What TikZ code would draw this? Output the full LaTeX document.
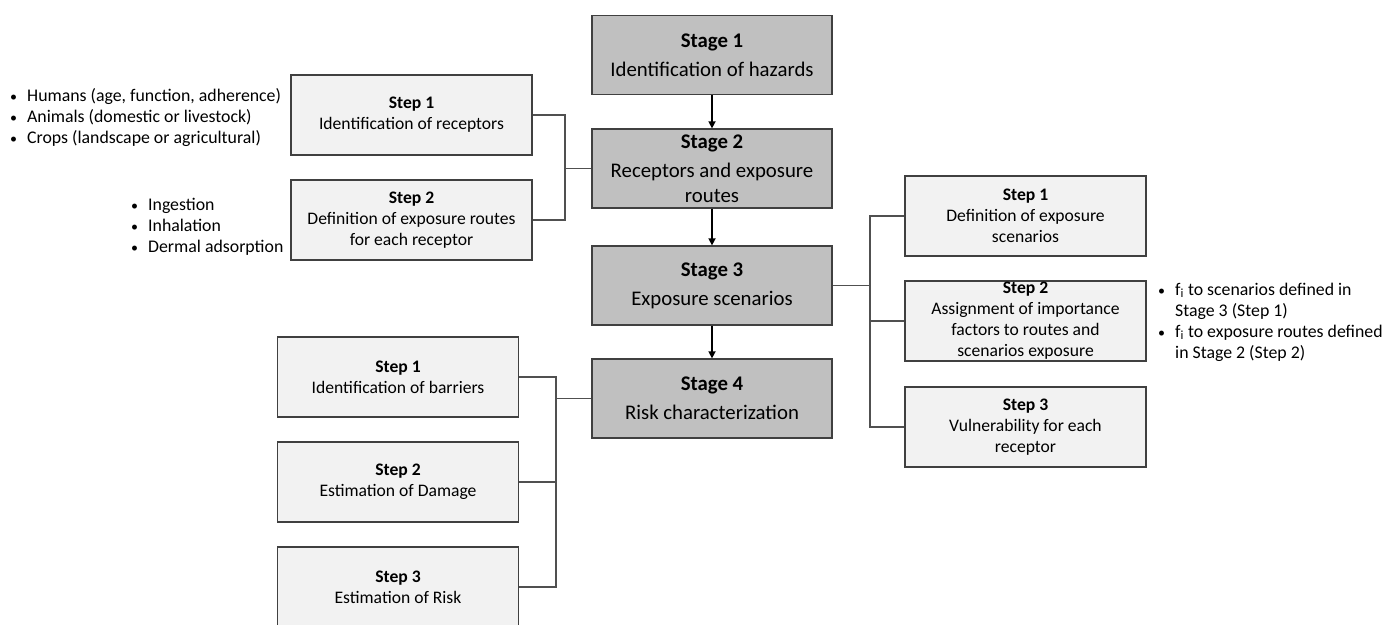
\documentclass[tikz,border=0pt]{standalone}
\usepackage{fontspec}
\setmainfont{Carlito}
\usetikzlibrary{arrows.meta}
\definecolor{stagefill}{HTML}{C0C0C0}
\definecolor{stepfill}{HTML}{F2F2F2}
\definecolor{boxline}{HTML}{404040}
\definecolor{connline}{HTML}{505050}
\newcommand{\bul}{{\fontsize{14}{21}\selectfont •}}
\tikzset{
  stagebox/.style={draw=boxline, line width=1.3pt, fill=stagefill, minimum width=240pt, minimum height=79pt, align=center, inner sep=2pt, font=\fontsize{20.8}{25}\selectfont},
  stepbox/.style={draw=boxline, line width=1.2pt, fill=stepfill, minimum width=241pt, minimum height=80pt, align=center, inner sep=1pt, font=\fontsize{17.6}{21}\selectfont},
  conn/.style={draw=connline, line width=1.1pt},
  flowarrow/.style={draw=black, line width=1.6pt, -{Triangle[length=7pt,width=7pt]}},
  bulletlist/.style={inner sep=0pt, font=\fontsize{17.8}{21}\selectfont}
}
\begin{document}
\begin{tikzpicture}[x=1pt,y=-1pt]
\clip (0,0) rectangle (1391,624);
\fill[white] (0,0) rectangle (1391,624);
% stages
\node[stagebox] (s1) at (712,55) {\textbf{Stage 1}\\[4pt]Identification of hazards};
\node[stagebox, minimum height=79pt] (s2) at (712,168.5) {\textbf{Stage 2}\\[4pt]Receptors and exposure\\routes};
\node[stagebox] (s3) at (712,285.5) {\textbf{Stage 3}\\[4pt]Exposure scenarios};
\node[stagebox] (s4) at (712,398.5) {\textbf{Stage 4}\\[4pt]Risk characterization};
\draw[flowarrow] (s1) -- (s2);
\draw[flowarrow] (s2) -- (s3);
\draw[flowarrow] (s3) -- (s4);
% left steps (stage 2)
\node[stepbox] (a1) at (411.5,115) {\textbf{Step 1}\\Identification of receptors};
\node[stepbox] (a2) at (411.5,220) {\textbf{Step 2}\\Definition of exposure routes\\for each receptor};
\coordinate (busa) at (565,0);
\draw[conn] (a1.east) -| (busa |- a2.east) -- (a2.east);
\draw[conn] (busa |- s2.west) -- (s2.west);
% right steps (stage 3)
\node[stepbox] (b1) at (1025.5,216) {\textbf{Step 1}\\Definition of exposure\\scenarios};
\node[stepbox] (b2) at (1025.5,321) {\textbf{Step 2}\\Assignment of importance\\factors to routes and\\scenarios exposure};
\node[stepbox] (b3) at (1025.5,427) {\textbf{Step 3}\\Vulnerability for each\\receptor};
\coordinate (busb) at (870,0);
\draw[conn] (b1.west) -| (busb |- b3.west) -- (b3.west);
\draw[conn] (busb |- b2.west) -- (b2.west);
\draw[conn] (busb |- s3.east) -- (s3.east);
% bottom steps (stage 4)
\node[stepbox] (c1) at (398,377) {\textbf{Step 1}\\Identification of barriers};
\node[stepbox] (c2) at (398,482) {\textbf{Step 2}\\Estimation of Damage};
\node[stepbox] (c3) at (398,587) {\textbf{Step 3}\\Estimation of Risk};
\coordinate (busc) at (556,0);
\draw[conn] (c1.east) -| (busc |- c3.east) -- (c3.east);
\draw[conn] (busc |- c2.east) -- (c2.east);
\draw[conn] (busc |- s4.west) -- (s4.west);
% bullet lists
\node[bulletlist, anchor=west] (l1) at (10,118) {\begin{tabular}{@{}l@{\hspace{10pt}}l@{}}
\bul & Humans (age, function, adherence)\\
\bul & Animals (domestic or livestock)\\
\bul & Crops (landscape or agricultural)
\end{tabular}};
\node[bulletlist, anchor=west] (l2) at (131,227) {\begin{tabular}{@{}l@{\hspace{10pt}}l@{}}
\bul & Ingestion\\
\bul & Inhalation\\
\bul & Dermal adsorption
\end{tabular}};
\node[bulletlist, anchor=west] (l3) at (1158,322.5) {\begin{tabular}{@{}l@{\hspace{10pt}}l@{}}
\bul & f\textsubscript{i} to scenarios defined in\\
 & Stage 3 (Step 1)\\
\bul & f\textsubscript{i} to exposure routes defined\\
 & in Stage 2 (Step 2)
\end{tabular}};
\end{tikzpicture}
\end{document}
